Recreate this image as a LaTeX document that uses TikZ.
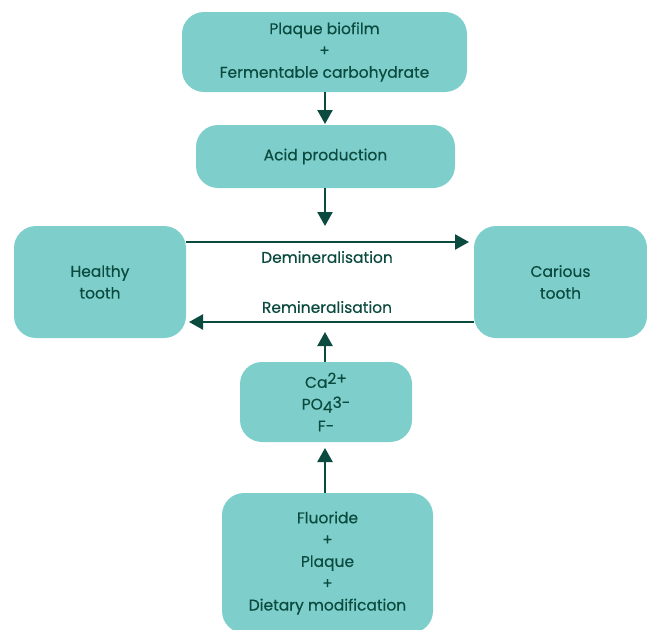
\documentclass[tikz,border=0pt]{standalone}
\usepackage{fontspec}
\setmainfont{Poppins}[FakeBold=0.4]
\usetikzlibrary{arrows.meta}
\definecolor{boxfill}{HTML}{7ECFCC}
\definecolor{ink}{HTML}{0B4A3E}
\tikzset{
  flowbox/.style={fill=boxfill, draw=none, rounded corners=22pt, text=ink, align=center, font=\fontsize{15.5}{21.8}\selectfont, inner sep=0pt},
  flowarrow/.style={draw=ink, line width=2.3pt, -{Triangle[length=14pt,width=15pt]}},
  lbl/.style={text=ink, font=\fontsize{15.5}{18}\selectfont}
}
\begin{document}
\begin{tikzpicture}[x=1pt,y=-1pt]
\useasboundingbox (0,0) rectangle (647,629);
\begin{scope}
\clip (0,0) rectangle (647,629);
\node[flowbox, minimum width=285pt, minimum height=80pt] (top) at (324.5,52) {\rule{0pt}{5pt}Plaque biofilm\\+\\Fermentable carbohydrate};
\node[flowbox, minimum width=259pt, minimum height=63pt] (acid) at (325.5,156.5) {Acid production};
\node[flowbox, minimum width=172pt, minimum height=112pt] (healthy) at (100,282) {Healthy\\tooth};
\node[flowbox, minimum width=173pt, minimum height=112pt] (carious) at (560.5,282) {Carious\\tooth};
\node[flowbox, minimum width=172pt, minimum height=80pt] (ions) at (326,402) {Ca\raisebox{0.45ex}{2+}\\PO\raisebox{-0.35ex}{4}\raisebox{0.2ex}{3-}\\F-};
\node[flowbox, minimum width=211pt, minimum height=140pt] (bottom) at (327.5,563) {Fluoride\\+\\Plaque\\+\\Dietary modification};
\end{scope}
\coordinate (demS) at (186,242);
\coordinate (demE) at (469,242);
\coordinate (remS) at (474,322);
\coordinate (remE) at (189,322);
\draw[flowarrow] (top.south -| 325,0) -- (325,124);
\draw[flowarrow] (acid.south -| 325,0) -- (325,226);
\draw[flowarrow] (demS) -- (demE);
\draw[flowarrow] (remS) -- (remE);
\draw[flowarrow] (ions.north -| 325,0) -- (325,332);
\draw[flowarrow] (bottom.north -| 325,0) -- (325,448);
\node[lbl] (dem) at (327,257) {Demineralisation};
\node[lbl] (rem) at (327,307) {Remineralisation};
\end{tikzpicture}
\end{document}
